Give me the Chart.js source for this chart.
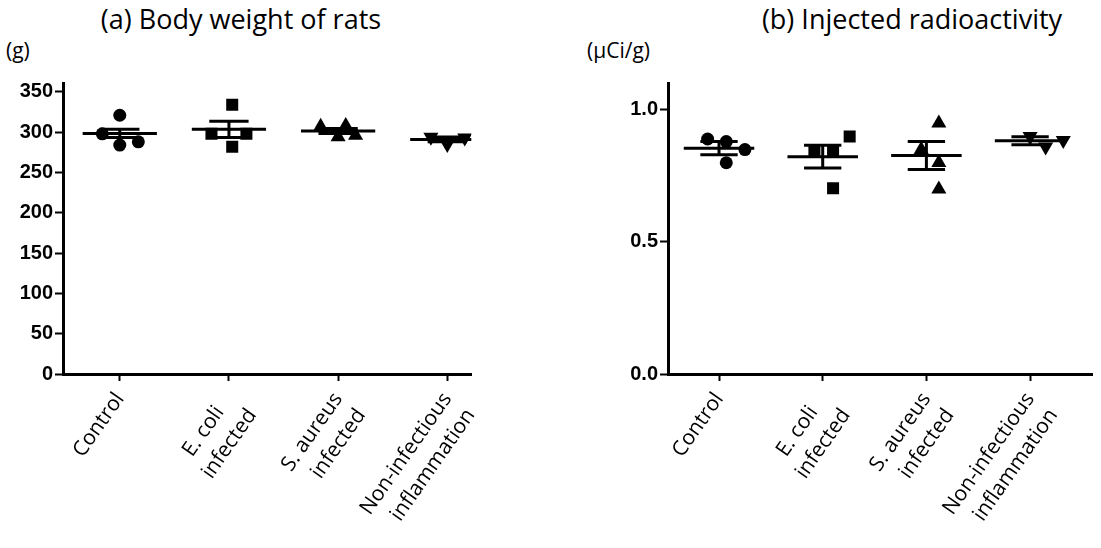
<!DOCTYPE html>
<html>
<head>
<meta charset="utf-8">
<title>Body weight and injected radioactivity</title>
<script src="https://cdn.jsdelivr.net/npm/chart.js@4.4.1/dist/chart.umd.min.js"></script>
<style>
  body { margin: 0; background: #fff; width: 1101px; height: 548px; position: relative; overflow: hidden; font-family: "Open Sans", sans-serif; color: #000; }
  .box { position: absolute; top: 0; height: 548px; }
  #boxA { left: 0; width: 480px; }
  #boxB { left: 550px; width: 551px; }
  .title { position: absolute; top: 0px; font-size: 27px; white-space: nowrap; transform: translateX(-50%); }
  .unit { position: absolute; top: 36px; font-size: 21px; white-space: nowrap; }
</style>
</head>
<body>
<div class="title" style="left:241px">(a) Body weight of rats</div>
<div class="title" style="left:912px">(b) Injected radioactivity</div>
<div class="unit" style="left:6px">(g)</div>
<div class="unit" style="left:587px">(μCi/g)</div>
<div class="box" id="boxA"><canvas id="chartA"></canvas></div>
<div class="box" id="boxB"><canvas id="chartB"></canvas></div>
<script>
// groups on the x axis (trailing spaces keep the short line centred over the long one)
const categories = [
  ["Control"],
  ["E. coli   ", "infected"],
  ["S. aureus", "infected"],
  ["Non-infectious", "inflammation"]
];

// (a) body weight of each rat, g
const weightControl = [321, 298, 284, 288];
const weightEcoli = [334, 298, 298, 282];
const weightSaureus = [307, 308, 294, 296];
const weightNonInf = [294, 293, 285];
const weightMean = [298.5, 303.5, 301.5, 291];
const weightSem = [5, 10, 3, 3];
const weightTicks = [0, 50, 100, 150, 200, 250, 300, 350];

// (b) injected radioactivity, uCi/g
const doseControl = [0.89, 0.88, 0.85, 0.80];
const doseEcoli = [0.848, 0.842, 0.899, 0.703];
const doseSaureus = [0.95, 0.85, 0.80, 0.70];
const doseNonInf = [0.90, 0.86, 0.885];
const doseMean = [0.855, 0.823, 0.827, 0.883];
const doseSem = [0.025, 0.043, 0.053, 0.015];
const doseTicks = [0, 0.5, 1.0];

// horizontal scatter of the dots inside each column (in category units)
const jitterA = [[0, -0.16, 0, 0.17], [0.03, -0.16, 0.16, 0.03], [-0.16, 0.07, 0, 0.16], [-0.15, 0.16, 0]];
const jitterB = [[-0.11, 0.07, 0.25, 0.07], [-0.08, 0.1, 0.26, 0.1], [0.12, -0.05, 0.12, 0.12], [0, 0.15, 0.32]];

const markers = [
  { style: "circle", radius: 6.5, rotation: 0 },
  { style: "rect", radius: 8.5, rotation: 0 },
  { style: "triangle", radius: 8.7, rotation: 0 },
  { style: "triangle", radius: 8.7, rotation: 180 }
];

const MEAN_HALF = 0.34; // half width of the mean line
const CAP_HALF = 0.18;  // half width of the error caps

function makeChart(canvasId, cfg) {
  const datasets = [];

  // mean lines
  const meanData = [];
  cfg.means.forEach((m, i) => {
    const c = i + 1;
    meanData.push({ x: c - MEAN_HALF, y: m }, { x: c + MEAN_HALF, y: m }, { x: c, y: null });
  });
  // error bars (mean +/- sem)
  const errData = [];
  cfg.means.forEach((m, i) => {
    const c = i + 1, s = cfg.sems[i];
    errData.push({ x: c, y: m - s }, { x: c, y: m + s }, { x: c, y: null });
    errData.push({ x: c - CAP_HALF, y: m + s }, { x: c + CAP_HALF, y: m + s }, { x: c, y: null });
    errData.push({ x: c - CAP_HALF, y: m - s }, { x: c + CAP_HALF, y: m - s }, { x: c, y: null });
  });
  [meanData, errData].forEach((d) => {
    datasets.push({
      type: "line",
      data: d,
      borderColor: "#000",
      borderWidth: 3,
      pointRadius: 0,
      spanGaps: false,
      fill: false
    });
  });

  // individual animals
  cfg.groups.forEach((vals, i) => {
    const mk = markers[i];
    datasets.push({
      type: "scatter",
      data: vals.map((v, j) => ({ x: i + 1 + cfg.jitter[i][j], y: v })),
      pointStyle: mk.style,
      pointRadius: mk.radius,
      rotation: mk.rotation,
      backgroundColor: "#000",
      borderColor: "#000",
      borderWidth: 0
    });
  });

  return new Chart(document.getElementById(canvasId), {
    type: "scatter",
    data: { datasets: datasets },
    options: {
      responsive: true,
      maintainAspectRatio: false,
      animation: false,
      layout: { padding: { top: 83, right: cfg.rightPad, left: 0, bottom: 0 } },
      plugins: { legend: { display: false }, tooltip: { enabled: false } },
      scales: {
        x: {
          type: "linear",
          min: cfg.xMin,
          max: cfg.xMax,
          afterBuildTicks: (scale) => {
            scale.ticks = categories.map((c, i) => ({ value: i + 1 }));
          },
          afterFit: (scale) => {
            scale.height = 174;
            scale.paddingLeft = 0;
            scale.paddingRight = 0;
          },
          ticks: {
            autoSkip: false,
            minRotation: 55,
            maxRotation: 55,
            padding: 6,
            color: "#000",
            font: { family: "Open Sans", size: 21, lineHeight: 1.35 },
            callback: (v) => categories[Math.round(v) - 1]
          },
          grid: { drawOnChartArea: false, drawTicks: true, tickLength: 7, tickWidth: 2, tickColor: "#000" },
          border: { display: true, color: "#000", width: 3 }
        },
        y: {
          min: 0,
          max: cfg.yMax,
          afterBuildTicks: (scale) => {
            scale.ticks = cfg.ticks.map((v) => ({ value: v }));
          },
          afterFit: (scale) => {
            scale.width = cfg.axisWidth;
            scale.paddingTop = 0;
            scale.paddingBottom = 0;
          },
          ticks: {
            padding: 2,
            color: "#000",
            font: { family: "Liberation Sans", size: 20, weight: "bold" },
            callback: cfg.fmt
          },
          grid: { drawOnChartArea: false, drawTicks: true, tickLength: 8, tickWidth: 2, tickColor: "#000" },
          border: { display: true, color: "#000", width: 3 }
        }
      }
    }
  });
}

makeChart("chartA", {
  groups: [weightControl, weightEcoli, weightSaureus, weightNonInf],
  jitter: jitterA,
  means: weightMean,
  sems: weightSem,
  ticks: weightTicks,
  yMax: 361,
  xMin: 0.48,
  xMax: 4.22,
  axisWidth: 63,
  rightPad: 8,
  fmt: (v) => String(v)
});

makeChart("chartB", {
  groups: [doseControl, doseEcoli, doseSaureus, doseNonInf],
  jitter: jitterB,
  means: doseMean,
  sems: doseSem,
  ticks: doseTicks,
  yMax: 1.102,
  xMin: 0.508,
  xMax: 4.6,
  axisWidth: 118,
  rightPad: 0,
  fmt: (v) => v.toFixed(1)
});
</script>
</body>
</html>
